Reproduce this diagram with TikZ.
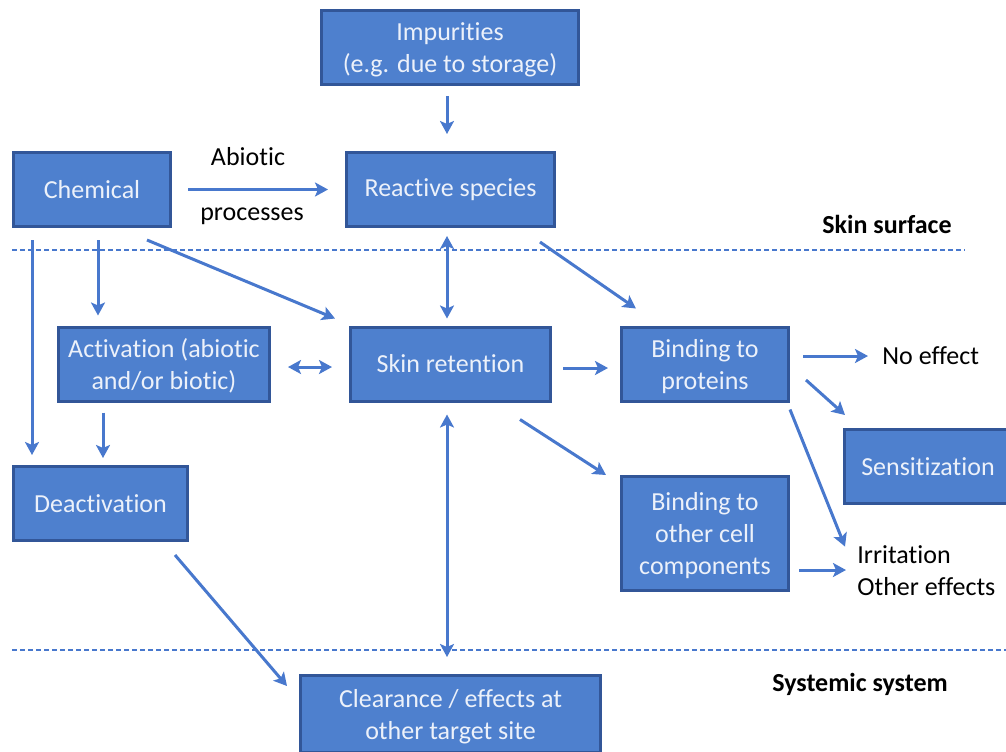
\documentclass[tikz,border=0pt]{standalone}
\usepackage{fontspec}
\setmainfont{Carlito}[RawFeature=-liga, RawFeature=-clig, RawFeature=-calt, RawFeature=-dlig]
\usepackage{tikz}
\usetikzlibrary{arrows.meta,calc,positioning}
\definecolor{boxfill}{RGB}{78,128,206}
\definecolor{boxedge}{RGB}{50,86,152}
\definecolor{flowblue}{RGB}{72,120,205}
\definecolor{boxtext}{RGB}{236,241,250}

\begin{document}
\begin{tikzpicture}[x=0.5pt, y=-0.5pt, >={Stealth[length=6.5pt, width=7pt, inset=1.5pt]},
		block/.style={draw=boxedge, fill=boxfill, line width=1.5pt, rectangle, inner sep=0pt, align=center, text=boxtext, font=\fontsize{13}{16}\selectfont, minimum height=37pt},
		lines/.style={text depth=-1pt},
		plain/.style={draw=none, inner sep=0pt, text=black, font=\fontsize{13}{16}\selectfont},
		layer/.style={dashed, dash pattern=on 2.5pt off 1.5pt, line width=0.7pt, color=flowblue},
		flow/.style={line width=1.5pt, ->, color=flowblue}
		]
		\clip (0,0) rectangle (1006,751);
		
		\node[block, lines, minimum width=128.5pt](imp) at (450,47.5) {Impurities\\(e.g. due to storage)};
		\node[block, minimum width=78.5pt](chem) at (92,189.5) {Chemical};
		\node[block, minimum width=104pt](react) at (450.5,189.5) {Reactive species};
		\node[block, lines, minimum width=105.5pt](act) at (164,364) {Activation (abiotic\\and/or biotic)};
		\node[block, minimum width=100pt](skin) at (450.5,364) {Skin retention};
		\node[block, lines, minimum width=83.5pt](bprot) at (705,364) {Binding to\\proteins};
		\node[block, minimum width=83.5pt](sens) at (928,466.5) {Sensitization};
		\node[block, minimum width=87pt](deact) at (100.5,503.5) {Deactivation};
		\node[block, lines, minimum width=83.5pt, minimum height=57pt](bcell) at (705,533.5) {Binding to\\other cell\\components};
		\node[block, lines, minimum width=150pt, minimum height=38.5pt](clear) at (450.5,714) {Clearance / effects at\\other target site};
		
		\node[plain](abiotic) at (248,157) {Abiotic};
		\node[plain](procs) at (252,216) {processes};
		\node[plain, font=\fontsize{13}{16}\selectfont\bfseries](surf) at (887,224) {Skin surface};
		\node[plain, font=\fontsize{13}{16}\selectfont\bfseries](sys) at (860,684) {Systemic system};
		\node[plain, anchor=west](noeff) at (882,356) {No effect};
		\node[plain, anchor=west, align=left](irrit) at (857,571) {Irritation\\Other effects};
		
		% layer borders
		\draw[layer] (12,250) -- (965,250);
		\draw[layer] (12,650) -- (1006,650);
		
		\draw [flow] ($(imp.south)+(-3,10)$) to [] ($(react.north)+(-3.5,-17)$);
		\draw [flow] ($(chem.east)+(16,0)$) to [] ($(react.west)+(-17,0)$);
		\draw [flow,<->] ($(react.south)+(-3.5,8)$) to [] ($(skin.north)+(-3.5,-7)$);
		\draw [flow] ($(chem.south east)+(-25,12)$) to [] ($(skin.north west)+(-14,-7)$);
		\draw [flow] ($(chem.south)+(6,12)$) to [] ($(act.north west)+(41,-10)$);
		\draw [flow] ($(chem.south west)+(20,12)$) to [] ($(deact.north west)+(20,-10)$);
		\draw [flow] ($(act.south west)+(46,10)$) to [] ($(deact.north)+(2.5,-7)$);
		\draw [flow,<->] ($(act.east)+(17,3)$) to [] ($(skin.west)+(-17,3)$);
		\draw [flow] ($(skin.east)+(11,4)$) to [] ($(bprot.west)+(-12,4)$);
		\draw [flow] ($(react.south east)+(-16,14)$) to [] ($(bprot.north west)+(16,-17)$);
		\draw [flow] ($(skin.south east)+(-32,17)$) to [] ($(bcell.north west)+(-14,0)$);
		\draw [flow,<->] ($(skin.south)+(-3.5,12)$) to [] ($(clear.north)+(-3.5,-17)$);
		\draw [flow] ($(deact.south east)+(-14,13)$) to [] ($(clear.north west)+(-12,12)$);
		\draw [flow] ($(bprot.east)+(13,-8)$) to [] ($(noeff.west)+(-14,0)$);
		\draw [flow] ($(bprot.east)+(16,16)$) to [] ($(sens.north west)+(2,-13)$);
		\draw [flow] ($(bprot.south east)+(0,7)$) to [] ($(irrit.north west)+(-12,1)$);
		\draw [flow] ($(bcell.east)+(9,36.5)$) to [] ($(irrit.west)+(-11,-1)$);
\end{tikzpicture}
\end{document}
